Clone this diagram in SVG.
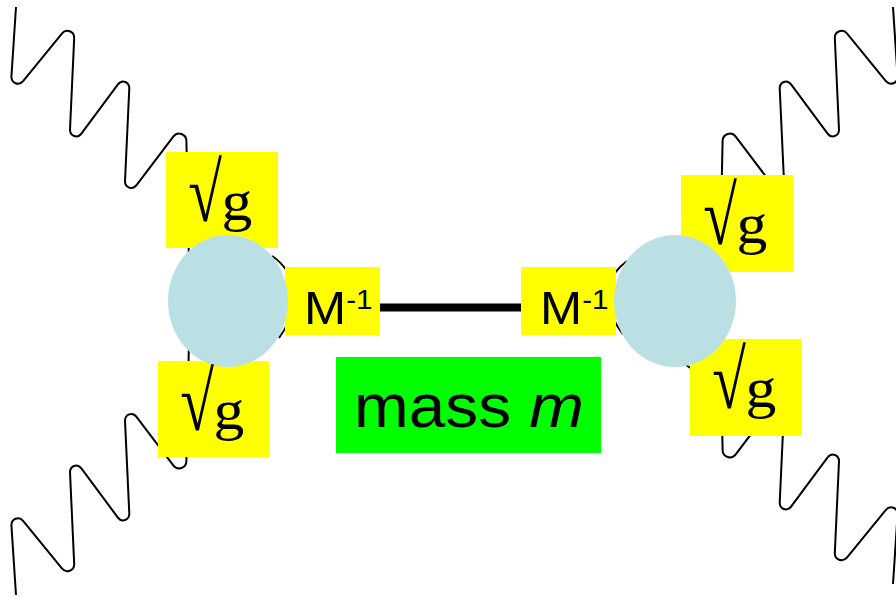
<svg xmlns="http://www.w3.org/2000/svg" xmlns:xlink="http://www.w3.org/1999/xlink" width="896" height="597" viewBox="0 0 896 597">
<style>
.bit{fill:none;stroke:#000;stroke-width:2}
.ball{fill:#BBE0E3}
.yb{fill:#FFFF00}
.gb{fill:#00FF00}
.rad{font-family:"Liberation Serif","Times New Roman",serif;font-size:83px;fill:#000;text-anchor:middle}
.gg{font-family:"Liberation Serif","Times New Roman",serif;font-size:56px;fill:#000}
.ms{font-family:"Liberation Sans",Arial,sans-serif;font-size:46px;fill:#000}
.sup{font-size:27px}
.mm{font-family:"Liberation Sans",Arial,sans-serif;font-size:62px;fill:#000;text-anchor:middle}
</style>
<defs>
<path id="wave" fill="none" stroke="#000" stroke-width="2" d="M16,7 L11.44,76.28 C10.98,83.26 18.90,86.37 23.32,80.94 L61.88,33.56 C66.30,28.13 74.50,31.26 74.18,38.25 L70.02,129.25 C69.70,136.24 77.40,138.99 81.57,133.36 L117.73,84.64 C121.90,79.01 129.59,81.75 129.27,88.75 L125.03,180.75 C124.71,187.75 132.50,190.56 136.71,184.97 L173.29,136.53 C177.50,130.94 186.24,133.77 186.39,140.77 L189,262"/>
</defs>
<rect width="896" height="597" fill="#fff"/>
<g id="connectors">
<use xlink:href="#wave" href="#wave"/>
<use xlink:href="#wave" href="#wave" transform="matrix(1,0,0,-1,0,602)"/>
<use xlink:href="#wave" href="#wave" transform="matrix(-1,0,0,1,909,0)"/>
<use xlink:href="#wave" href="#wave" transform="matrix(-1,0,0,-1,909,591)"/>
<path class="bit" d="M272,256 Q280,261 287,271"/>
<path class="bit" d="M288,322 Q285,330 279,338"/>
<path class="bit" d="M627,261 Q620,266 614,274"/>
<path class="bit" d="M613,316 Q616,326 623,334"/>
<path class="bit" d="M683,361 Q687,367 693,369"/>
<line x1="290" y1="307.5" x2="615" y2="307.5" stroke="#000" stroke-width="8"/>
</g>
<g id="g-tl"><rect class="yb" x="166" y="152" width="112" height="96"/></g>
<g id="g-bl"><rect class="yb" x="158" y="361" width="111" height="96"/></g>
<g id="g-tr"><rect class="yb" x="681" y="175" width="112" height="97"/></g>
<g id="g-br"><rect class="yb" x="690" y="339" width="112" height="97"/></g>
<g id="m-left"><rect class="yb" x="285" y="267" width="95" height="68"/></g>
<g id="m-right"><rect class="yb" x="521" y="267" width="95" height="68"/></g>
<g id="ball-left"><ellipse class="ball" cx="228" cy="301" rx="60" ry="66"/></g>
<g id="ball-right"><ellipse class="ball" cx="675" cy="301" rx="61" ry="66"/></g>
<g id="mass"><rect class="gb" x="336" y="357" width="265" height="96"/>
<text class="mm" transform="translate(469,427) scale(1.06,1)">mass <tspan font-style="italic">m</tspan></text></g>
<g id="labels">
<text class="rad" transform="translate(205,221.3) scale(0.74,1)">√</text>
<text class="gg" transform="translate(221.5,219.5) scale(1.1,1)">g</text>
<text class="rad" transform="translate(197,430.3) scale(0.74,1)">√</text>
<text class="gg" transform="translate(213.5,428.5) scale(1.1,1)">g</text>
<text class="rad" transform="translate(720,244.3) scale(0.74,1)">√</text>
<text class="gg" transform="translate(736.5,242.5) scale(1.1,1)">g</text>
<text class="rad" transform="translate(729,408.3) scale(0.74,1)">√</text>
<text class="gg" transform="translate(745.5,406.5) scale(1.1,1)">g</text>
<text class="ms" transform="translate(304,324) scale(1.1,1)">M<tspan class="sup" dy="-15">-1</tspan></text>
<text class="ms" transform="translate(540,324) scale(1.1,1)">M<tspan class="sup" dy="-15">-1</tspan></text>
</g>
</svg>
